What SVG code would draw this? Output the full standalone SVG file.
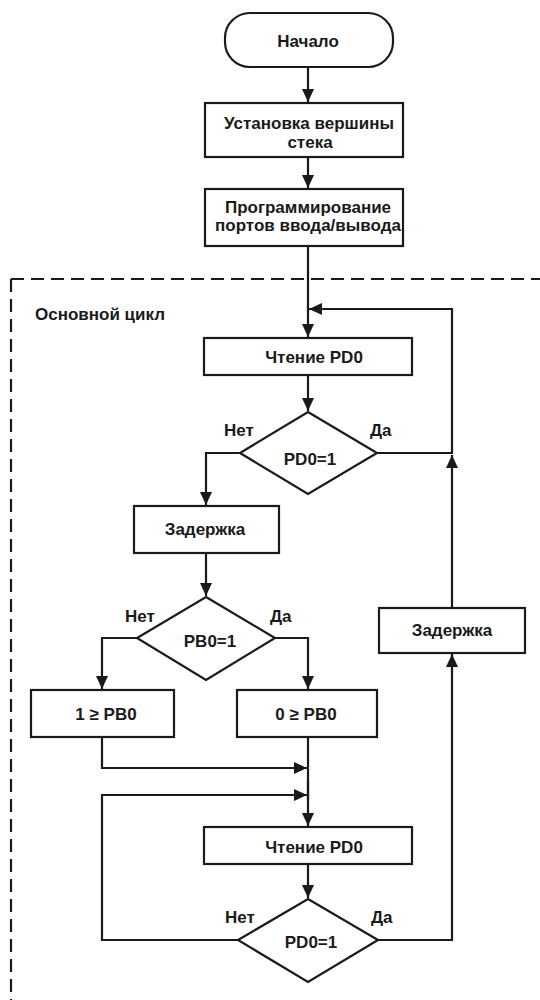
<svg xmlns="http://www.w3.org/2000/svg" width="540" height="1000" viewBox="0 0 540 1000">
<style>
.box{fill:#fff;stroke:#1a1a1a;stroke-width:2.2}
.ln{fill:none;stroke:#1a1a1a;stroke-width:2.2}
.ar{fill:none;stroke:#1a1a1a;stroke-width:2.2;marker-end:url(#ah)}
.dash{fill:none;stroke:#1a1a1a;stroke-width:2.2;stroke-dasharray:13 7}
text{font-family:"Liberation Sans",Arial,sans-serif;font-weight:bold;font-size:17px;fill:#1a1a1a}
.c{text-anchor:middle}
</style>
<defs>
<marker id="ah" markerUnits="userSpaceOnUse" markerWidth="14" markerHeight="12" viewBox="0 0 14 12" refX="13" refY="6" orient="auto">
<path d="M0,0 L13,6 L0,12 Z" fill="#1a1a1a"/>
</marker>
</defs>
<rect width="540" height="1000" fill="#fff"/>
<g id="loop-frame">
<path class="dash" d="M11,279 V1000"/>
<path class="dash" d="M11,279 H540"/>
<text x="35" y="320">Основной цикл</text>
</g>
<g id="connectors">
<path class="ar" d="M308,67 V102"/>
<path class="ar" d="M308,157 V188"/>
<path class="ar" d="M308,246 V337"/>
<path class="ar" d="M377,453 H452 V309 H309"/>
<path class="ar" d="M308,375 V411"/>
<path class="ar" d="M240,453 H206 V505"/>
<path class="ar" d="M206,553 V596"/>
<path class="ar" d="M137,638 H102 V689"/>
<path class="ar" d="M275,638 H308 V689"/>
<path class="ar" d="M102,737 V768 H307"/>
<path class="ln" d="M308,737 V800"/>
<path class="ar" d="M308,780 V826"/>
<path class="ar" d="M238,940 H102 V795 H307"/>
<path class="ar" d="M308,864 V898"/>
<path class="ar" d="M378,940 H452 V654"/>
<path class="ar" d="M452,608 V455"/>
</g>
<g id="start">
<rect class="box" x="225" y="13" width="168" height="54" rx="25" ry="25"/>
<text class="c" x="308" y="47">Начало</text>
</g>
<g id="set-stack">
<rect class="box" x="205" y="103" width="198" height="54"/>
<text class="c" x="309" y="129">Установка вершины</text>
<text class="c" x="310" y="148">стека</text>
</g>
<g id="program-ports">
<rect class="box" x="205" y="189" width="198" height="57"/>
<text class="c" x="308" y="213">Программирование</text>
<text class="c" x="308" y="231">портов ввода/вывода</text>
</g>
<g id="read-pd0-1">
<rect class="box" x="204" y="338" width="208" height="37"/>
<text class="c" x="314" y="363">Чтение PD0</text>
</g>
<g id="decision-pd0-1">
<polygon class="box" points="308,412 377,453 308,494 240,453"/>
<text class="c" x="310" y="465">PD0=1</text>
<text x="224" y="436">Нет</text>
<text x="370" y="436">Да</text>
</g>
<g id="delay-1">
<rect class="box" x="134" y="506" width="145" height="47"/>
<text class="c" x="205" y="535">Задержка</text>
</g>
<g id="decision-pb0">
<polygon class="box" points="206,597 275,638 206,680 137,638"/>
<text class="c" x="210" y="647">PB0=1</text>
<text x="125" y="622">Нет</text>
<text x="270" y="622">Да</text>
</g>
<g id="set-pb0-1">
<rect class="box" x="31" y="690" width="143" height="47"/>
<text class="c" x="106" y="720">1 ≥ PB0</text>
</g>
<g id="set-pb0-0">
<rect class="box" x="237" y="690" width="140" height="47"/>
<text class="c" x="306" y="720">0 ≥ PB0</text>
</g>
<g id="read-pd0-2">
<rect class="box" x="204" y="827" width="208" height="37"/>
<text class="c" x="314" y="853">Чтение PD0</text>
</g>
<g id="decision-pd0-2">
<polygon class="box" points="308,899 378,940 308,982 238,940"/>
<text class="c" x="311" y="948">PD0=1</text>
<text x="225" y="923">Нет</text>
<text x="371" y="923">Да</text>
</g>
<g id="delay-2">
<rect class="box" x="379" y="608" width="146" height="45"/>
<text class="c" x="452" y="636">Задержка</text>
</g>
</svg>
